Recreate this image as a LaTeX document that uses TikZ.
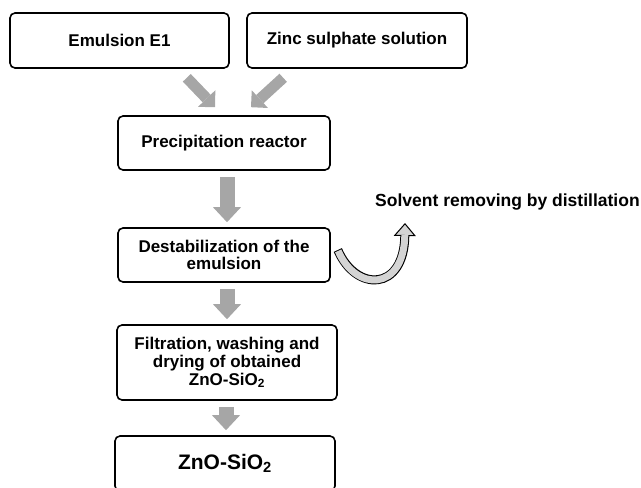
\documentclass[tikz,border=0pt]{standalone}
\usepackage{fontspec}
\setmainfont{Liberation Sans}
\usetikzlibrary{arrows.meta,positioning,calc}

\definecolor{flowgray}{RGB}{166,166,166}
\definecolor{tubegray}{RGB}{212,212,212}

\tikzset{
  procbox/.style={draw, line width=1.6pt, rounded corners=5pt, align=center,
    minimum width=220pt, minimum height=55pt, inner sep=2pt,
    font=\bfseries\fontsize{17}{17.5}\selectfont},
  flowarrow/.style={flowgray, line width=15pt, shorten <=6pt, shorten >=5pt,
    -{Triangle[length=15pt, width=28pt, line width=0pt]}},
  feedarrow/.style={flowgray, line width=11pt,
    -{Triangle[length=12pt, width=24pt, line width=0pt]}},
}

\begin{document}
\begin{tikzpicture}[x=1pt, y=-1pt]
    \useasboundingbox (0,0) rectangle (641,488);
    \clip (0,0) rectangle (641,488);
    % Feed streams
    \node[procbox, minimum width=219pt] (emul) at (119.5,40.5) {Emulsion E1};
    \node[procbox] (zinc) at (357,40.5) {Zinc sulphate solution};
    % Process steps
    \node[procbox, minimum width=212pt, minimum height=54pt] (prec) at (224,143) {Precipitation reactor};
    \node[procbox, minimum width=212pt, minimum height=54pt] (destab) at (224,255) {Destabilization of the\\emulsion};
    \node[procbox, minimum height=75pt, font=\bfseries\fontsize{17}{18}\selectfont] (filt) at (227,362.5) {Filtration, washing and\\drying of obtained\\ZnO-SiO\textsubscript{2}};
    \node[procbox, font=\bfseries\fontsize{21}{22}\selectfont] (zno) at (225,463.5) {ZnO-SiO\textsubscript{2}};
    \node[anchor=west, inner sep=0pt, font=\bfseries\fontsize{17.5}{18}\selectfont] (solv) at (375,202) {Solvent removing by distillation};
    \coordinate (distout) at ([shift={(30,21)}]solv.west);

    \draw[feedarrow] ([shift={(-43,9)}]emul.south east) -- ([shift={(-9,-8)}]prec.north);
    \draw[feedarrow] ([shift={(37,9)}]zinc.south west) -- ([shift={(27,-8)}]prec.north);
    \foreach \a/\b/\s in {prec/destab/3, destab/filt/3, filt/zno/-1}
        \draw[flowarrow] ([xshift=\s pt]\a.south) -- ([xshift=\s pt]\a.south |- \b.north);
    % Solvent out
    \draw[line width=9pt, -{Triangle[length=13pt, width=22pt, line width=1pt, fill=tubegray]}]
        ([shift={(7,-5)}]destab.east) .. controls +(18,42) and +(-1,69) .. (distout);
    \draw[line width=7pt, tubegray, shorten <=1pt, shorten >=12pt]
        ([shift={(7,-5)}]destab.east) .. controls +(18,42) and +(-1,69) .. (distout);
\end{tikzpicture}
\end{document}
